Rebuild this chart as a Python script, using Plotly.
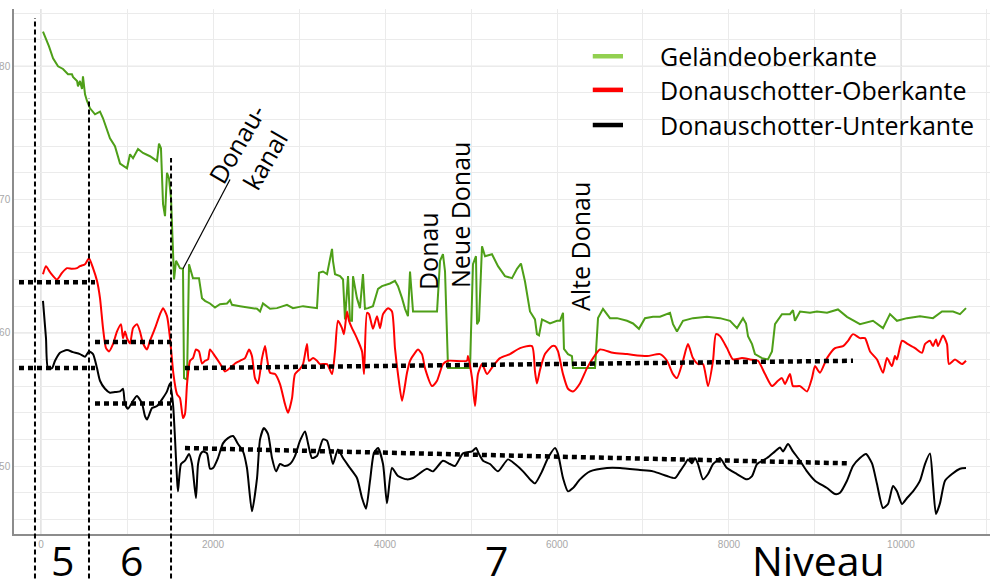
import plotly.graph_objects as go

# ---------------- data (distance in m, elevation in m ü.A.) ----------------
gelaende_x = [23, 58, 93, 140, 198, 256, 314, 360, 372, 419,
              430, 453, 477, 488, 512, 535, 570, 628, 686, 721,
              802, 860, 919, 1000, 1035, 1070, 1093, 1128, 1186, 1267,
              1326, 1349, 1372, 1395, 1419, 1442, 1465, 1488, 1512, 1535,
              1547, 1570, 1616, 1651, 1663, 1698, 1721, 1767, 1837, 1872,
              1907, 1965, 2023, 2081, 2163, 2198, 2221, 2314, 2430, 2512,
              2547, 2581, 2663, 2744, 2860, 2930, 3047, 3163, 3209, 3233,
              3279, 3326, 3360, 3384, 3395, 3419, 3477, 3512, 3535, 3570,
              3593, 3616, 3628, 3674, 3709, 3744, 3767, 3802, 3860, 3919,
              3965, 4058, 4116, 4151, 4198, 4233, 4267, 4291, 4326, 4605,
              4640, 4674, 4698, 4733, 4953, 4988, 5023, 5058, 5070, 5093,
              5128, 5163, 5244, 5314, 5395, 5477, 5535, 5581, 5628, 5686,
              5744, 5767, 5791, 5826, 5860, 5919, 6000, 6035, 6070, 6081,
              6128, 6174, 6186, 6442, 6477, 6535, 6616, 6698, 6814, 6884,
              6953, 7023, 7116, 7198, 7314, 7349, 7395, 7465, 7581, 7744,
              7895, 8012, 8093, 8163, 8198, 8221, 8268, 8302, 8384, 8453,
              8500, 8535, 8616, 8709, 8744, 8767, 8826, 8942, 9023, 9140,
              9267, 9372, 9523, 9674, 9791, 9872, 9953, 10070, 10221, 10372,
              10477, 10605, 10686, 10756]
gelaende_y = [182.6, 182.1, 181.5, 180.6, 180.0, 179.8, 179.4, 179.4, 179.2, 178.9,
              178.5, 178.9, 178.3, 179.25, 177.9, 177.4, 176.85, 176.4, 176.6, 176.1,
              174.6, 174.0, 172.7, 172.35, 173.4, 173.1, 173.4, 173.8, 173.5, 173.25,
              173.0, 172.9, 174.2, 173.85, 169.65, 168.75, 172.0, 171.6, 170.1, 165.9,
              164.0, 165.4, 164.85, 164.8, 156.6, 156.5, 165.15, 164.1, 164.1, 162.6,
              162.4, 162.2, 161.9, 162.15, 162.2, 162.45, 162.1, 162.0, 161.9, 161.8,
              161.6, 162.2, 161.8, 161.85, 162.1, 161.85, 162.0, 161.9, 161.85, 164.5,
              164.6, 164.4, 165.5, 166.3, 165.4, 164.4, 164.25, 164.0, 161.0, 164.25,
              160.9, 160.9, 164.25, 162.6, 161.85, 164.4, 161.8, 161.85, 162.0, 163.3,
              163.5, 163.7, 163.9, 163.5, 162.6, 161.8, 161.25, 164.6, 161.6, 161.6,
              165.4, 165.9, 164.6, 157.35, 157.35, 157.35, 165.15, 165.75, 160.65, 160.9,
              166.5, 165.75, 165.9, 165.0, 164.25, 164.1, 164.8, 165.2, 163.85, 161.6,
              161.0, 159.9, 159.8, 161.0, 160.9, 160.7, 160.9, 160.9, 161.5, 158.8,
              158.4, 158.25, 157.35, 157.35, 161.1, 161.8, 161.1, 161.1, 160.9, 160.7,
              160.3, 161.1, 161.2, 161.2, 161.5, 160.65, 160.1, 160.9, 161.1, 161.2,
              161.1, 160.9, 160.35, 161.1, 160.7, 159.75, 159.15, 158.4, 158.1, 158.0,
              158.6, 160.65, 161.4, 161.4, 161.7, 160.9, 161.6, 161.5, 161.6, 161.5,
              161.75, 161.2, 160.65, 160.9, 160.35, 161.4, 160.9, 161.1, 161.25, 161.1,
              161.6, 161.6, 161.4, 161.85]

oberkante_x = [23, 58, 105, 186, 244, 302, 360, 419, 453, 512,
               558, 605, 651, 686, 721, 756, 791, 837, 884, 930,
               953, 977, 1000, 1035, 1070, 1116, 1151, 1186, 1233, 1267,
               1326, 1384, 1419, 1465, 1500, 1540, 1581, 1616, 1651, 1674,
               1698, 1733, 1767, 1802, 1837, 1872, 1907, 1942, 1965, 2023,
               2081, 2140, 2198, 2256, 2314, 2372, 2419, 2453, 2488, 2523,
               2570, 2605, 2628, 2663, 2721, 2779, 2837, 2872, 2919, 2953,
               3012, 3047, 3093, 3116, 3163, 3209, 3244, 3326, 3384, 3419,
               3453, 3500, 3523, 3558, 3581, 3616, 3651, 3686, 3733, 3756,
               3791, 3814, 3860, 3907, 3942, 3977, 4035, 4081, 4116, 4151,
               4198, 4256, 4291, 4349, 4384, 4430, 4465, 4547, 4605, 4674,
               4733, 4953, 4965, 5012, 5047, 5081, 5128, 5186, 5256, 5337,
               5453, 5570, 5709, 5744, 5767, 5802, 5860, 5942, 5977, 6012,
               6070, 6128, 6186, 6267, 6349, 6419, 6500, 6651, 6814, 7047,
               7198, 7279, 7349, 7395, 7465, 7523, 7581, 7640, 7698, 7756,
               7814, 7849, 7895, 7977, 8047, 8151, 8244, 8337, 8419, 8500,
               8570, 8616, 8651, 8709, 8744, 8826, 8907, 8965, 9000, 9058,
               9140, 9233, 9326, 9384, 9442, 9523, 9581, 9640, 9721, 9791,
               9837, 9895, 9930, 9953, 10012, 10081, 10163, 10244, 10279, 10337,
               10372, 10407, 10430, 10488, 10535, 10558, 10628, 10709, 10756]
oberkante_y = [164.4, 165.0, 164.55, 164.0, 164.5, 164.85, 164.8, 164.85, 165.0, 165.15,
               165.6, 164.85, 163.9, 162.6, 160.35, 158.85, 158.6, 159.15, 160.1, 160.65,
               159.6, 160.1, 159.6, 159.2, 160.35, 160.65, 160.1, 159.2, 158.75, 159.4,
               160.35, 161.4, 161.85, 161.25, 159.6, 156.9, 155.4, 155.1, 153.6, 153.9,
               156.15, 157.9, 158.1, 158.75, 158.6, 157.7, 157.9, 158.0, 158.75, 158.25,
               157.7, 157.1, 157.35, 157.7, 157.9, 158.1, 158.75, 158.25, 156.6, 156.2,
               158.1, 159.0, 158.1, 157.0, 156.9, 156.15, 154.65, 154.0, 155.1, 156.9,
               157.3, 157.65, 159.15, 157.9, 158.1, 157.9, 157.65, 157.65, 156.9, 158.6,
               160.9, 160.35, 159.9, 161.6, 160.9, 160.35, 159.9, 159.4, 158.6, 156.9,
               161.5, 161.4, 160.3, 161.25, 160.35, 161.4, 161.85, 161.6, 158.85, 156.9,
               154.9, 157.0, 157.9, 158.5, 158.75, 158.4, 157.35, 156.0, 156.4, 157.65,
               157.9, 157.9, 158.25, 156.6, 154.5, 156.9, 157.65, 156.9, 157.5, 158.1,
               158.4, 158.85, 159.0, 157.1, 156.2, 157.2, 158.4, 159.0, 159.0, 158.6,
               156.9, 155.8, 155.6, 156.2, 157.35, 158.1, 158.75, 158.5, 158.4, 158.25,
               158.4, 157.9, 156.9, 156.6, 157.9, 159.15, 158.1, 157.65, 157.65, 156.0,
               157.9, 159.9, 159.75, 158.85, 158.0, 158.1, 158.0, 157.9, 156.9, 156.0,
               156.4, 156.6, 156.15, 156.9, 156.0, 156.0, 155.6, 156.6, 157.5, 157.0,
               158.1, 158.85, 159.0, 159.4, 159.9, 159.6, 159.6, 158.6, 158.0, 157.0,
               158.1, 157.5, 158.25, 158.0, 159.4, 159.15, 158.85, 158.5, 159.15, 159.4,
               159.0, 159.5, 159.0, 159.8, 159.15, 157.65, 158.0, 157.65, 157.9]

unterkante_x = [23, 58, 81, 128, 163, 221, 302, 372, 453, 512,
                558, 605, 651, 686, 744, 802, 860, 919, 953, 977,
                1012, 1070, 1116, 1174, 1209, 1233, 1291, 1349, 1407, 1465,
                1500, 1535, 1558, 1581, 1593, 1628, 1674, 1721, 1756, 1802,
                1826, 1860, 1884, 1930, 1965, 2000, 2058, 2116, 2174, 2233,
                2291, 2349, 2395, 2453, 2512, 2547, 2593, 2640, 2686, 2733,
                2779, 2837, 2895, 2953, 3012, 3070, 3105, 3151, 3209, 3279,
                3326, 3360, 3395, 3453, 3512, 3593, 3674, 3733, 3779, 3826,
                3872, 3919, 3977, 4023, 4081, 4151, 4256, 4326, 4488, 4558,
                4674, 4756, 4814, 4907, 5012, 5058, 5093, 5140, 5221, 5314,
                5430, 5512, 5605, 5686, 5744, 5826, 5895, 5977, 6012, 6070,
                6128, 6186, 6267, 6384, 6581, 6733, 6965, 7116, 7279, 7372,
                7430, 7488, 7523, 7570, 7605, 7640, 7698, 7756, 7814, 7860,
                7895, 7977, 8093, 8209, 8268, 8326, 8442, 8535, 8593, 8628,
                8686, 8744, 8826, 8907, 9000, 9140, 9233, 9291, 9372, 9442,
                9523, 9593, 9663, 9721, 9791, 9849, 9907, 9953, 10012, 10070,
                10140, 10221, 10279, 10337, 10372, 10407, 10453, 10512, 10593, 10686,
                10756]
unterkante_y = [162.4, 159.6, 157.35, 157.35, 157.9, 158.5, 158.7, 158.55, 158.4, 158.2,
                158.6, 158.4, 157.35, 156.4, 155.8, 155.5, 155.55, 155.6, 155.8, 154.65,
                154.3, 154.9, 155.25, 154.7, 153.75, 153.5, 154.35, 154.5, 155.0, 155.6,
                156.2, 154.65, 152.1, 149.1, 148.1, 150.15, 150.4, 150.9, 150.15, 147.6,
                150.15, 150.95, 151.1, 150.95, 149.8, 149.85, 150.6, 151.7, 152.1, 152.25,
                151.65, 151.1, 149.85, 146.6, 149.1, 152.0, 152.85, 152.4, 150.6, 149.6,
                150.15, 150.0, 150.15, 150.75, 151.9, 152.6, 151.7, 150.6, 150.75, 152.0,
                151.9, 151.1, 150.15, 151.25, 150.6, 149.85, 149.1, 147.6, 146.8, 148.9,
                151.0, 151.35, 150.15, 147.2, 149.85, 149.25, 149.0, 149.1, 149.8, 149.6,
                150.4, 150.15, 150.0, 150.95, 151.1, 151.35, 150.9, 150.4, 150.15, 149.6,
                150.5, 150.15, 149.6, 149.0, 148.7, 149.6, 150.6, 151.35, 150.9, 149.1,
                148.1, 148.35, 149.0, 149.6, 149.85, 149.85, 149.7, 149.6, 149.25, 149.1,
                149.6, 150.15, 150.5, 150.2, 150.6, 150.15, 149.0, 149.4, 150.15, 150.4,
                150.6, 149.85, 149.4, 149.0, 149.25, 150.15, 150.6, 151.1, 151.4, 151.1,
                151.65, 151.1, 150.4, 149.6, 148.9, 148.35, 147.9, 148.0, 148.9, 150.0,
                150.6, 150.9, 150.2, 148.65, 146.85, 147.15, 148.5, 148.1, 147.15, 147.6,
                148.1, 148.9, 150.15, 150.95, 148.65, 146.4, 147.2, 148.9, 149.4, 149.8,
                149.85]

series_names = ["Geländeoberkante", "Donauschotter-Oberkante", "Donauschotter-Unterkante"]
line_colors = ["#4E9F18", "#FF0000", "#000000"]
legend_colors = ["#92D050", "#FF0000", "#000000"]

# Niveau boundaries (m) and mean levels per Niveau
niveau_bounds = [-70, 558, 1512]
niveau_labels = ["5", "6", "7", "Niveau"]
niveau5_x = [-256, 628]
niveau6_x = [628, 1512]
niveau7_ok_x = [1674, 9442]
niveau7_uk_x = [1674, 9407]
level_oberkante = [163.8, 159.3, 157.35, 157.9]   # N5, N6, N7 start, N7 end
level_unterkante = [157.35, 154.7, 151.35, 150.2]

x_tickvals = [0, 1000, 2000, 3000, 4000, 5000, 6000, 7000, 8000, 9000, 10000, 11000]
x_ticktext = ["0", "", "2000", "", "4000", "", "6000", "", "8000", "", "10000", ""]
y_tickvals = [146, 148, 150, 152, 154, 156, 158, 160, 162, 164, 166, 168, 170,
              172, 174, 176, 178, 180, 182, 184]
y_ticktext = ["", "", "150", "", "", "", "", "160", "", "", "", "", "170",
              "", "", "", "", "180", "", ""]

assert len(gelaende_x) == len(gelaende_y)
assert len(oberkante_x) == len(oberkante_y)
assert len(unterkante_x) == len(unterkante_y)

FONT = "Open Sans"

fig = go.Figure()
fig.add_trace(go.Scatter(x=gelaende_x, y=gelaende_y, mode="lines", name=series_names[0],
                         line=dict(color=line_colors[0], width=2), showlegend=False))
fig.add_trace(go.Scatter(x=oberkante_x, y=oberkante_y, mode="lines", name=series_names[1],
                         line=dict(color=line_colors[1], width=2, shape="spline", smoothing=0.6),
                         showlegend=False))
fig.add_trace(go.Scatter(x=unterkante_x, y=unterkante_y, mode="lines", name=series_names[2],
                         line=dict(color=line_colors[2], width=2, shape="spline", smoothing=0.6),
                         showlegend=False))

shapes = []
# darker grid lines
for xv in [0, 10000]:
    shapes.append(dict(type="line", xref="x", yref="paper", x0=xv, x1=xv, y0=0, y1=1,
                       line=dict(color="#C8C8C8", width=1), layer="below"))
for yv in [160, 180]:
    shapes.append(dict(type="line", xref="paper", yref="y", x0=0, x1=1, y0=yv, y1=yv,
                       line=dict(color="#C8C8C8", width=1), layer="below"))

# dotted level lines
dot = dict(color="black", width=4.5, dash="5px,4px")
shapes.append(dict(type="line", xref="x", yref="y", x0=niveau5_x[0], x1=niveau5_x[1],
                   y0=level_oberkante[0], y1=level_oberkante[0], line=dot))
shapes.append(dict(type="line", xref="x", yref="y", x0=niveau5_x[0], x1=niveau5_x[1],
                   y0=level_unterkante[0], y1=level_unterkante[0], line=dot))
shapes.append(dict(type="line", xref="x", yref="y", x0=niveau6_x[0], x1=niveau6_x[1],
                   y0=level_oberkante[1], y1=level_oberkante[1], line=dot))
shapes.append(dict(type="line", xref="x", yref="y", x0=niveau6_x[0], x1=niveau6_x[1],
                   y0=level_unterkante[1], y1=level_unterkante[1], line=dot))
shapes.append(dict(type="line", xref="x", yref="y", x0=niveau7_ok_x[0], x1=niveau7_ok_x[1],
                   y0=level_oberkante[2], y1=level_oberkante[3], line=dot))
shapes.append(dict(type="line", xref="x", yref="y", x0=niveau7_uk_x[0], x1=niveau7_uk_x[1],
                   y0=level_unterkante[2], y1=level_unterkante[3], line=dot))

# vertical dashed boundaries
tops = [0.983, 0.830, 0.716]
for xb, top in zip(niveau_bounds, tops):
    shapes.append(dict(type="line", xref="x", yref="paper", x0=xb, x1=xb, y0=-0.1, y1=top,
                       line=dict(color="black", width=2, dash="5px,3px")))

# leader line for Donaukanal
leader_x = [2198, 1651]
leader_y = [171.5, 164.8]
shapes.append(dict(type="line", xref="x", yref="y", x0=leader_x[0], x1=leader_x[1],
                   y0=leader_y[0], y1=leader_y[1], line=dict(color="black", width=1.2)))

# custom legend
leg_y = [0.910, 0.846, 0.779]
for c, ly in zip(legend_colors, leg_y):
    shapes.append(dict(type="line", xref="paper", yref="paper", x0=0.593, x1=0.624,
                       y0=ly, y1=ly, line=dict(color=c, width=4.5)))

annotations = []
for name, ly in zip(series_names, leg_y):
    annotations.append(dict(text=name, xref="paper", yref="paper", x=0.660, y=ly,
                            xanchor="left", yanchor="middle", showarrow=False,
                            font=dict(family=FONT, size=25, color="black")))

label_font = dict(family=FONT, size=25, color="black")
annotations += [
    dict(text="Donau-<br>kanal", xref="paper", yref="paper", x=0.243, y=0.728,
         textangle=-60, showarrow=False, font=label_font, xanchor="center", yanchor="middle"),
    dict(text="Donau", xref="paper", yref="paper", x=0.4242, y=0.539,
         textangle=-90, showarrow=False, font=label_font, xanchor="center", yanchor="middle"),
    dict(text="Neue Donau", xref="paper", yref="paper", x=0.457, y=0.6076,
         textangle=-90, showarrow=False, font=label_font, xanchor="center", yanchor="middle"),
    dict(text="Alte Donau", xref="paper", yref="paper", x=0.580, y=0.5467,
         textangle=-90, showarrow=False, font=label_font, xanchor="center", yanchor="middle"),
]
big_font = dict(family=FONT, size=41, color="black")
for lab, xp in zip(niveau_labels, [0.0502, 0.1209, 0.4939, 0.8238]):
    annotations.append(dict(text=lab, xref="paper", yref="paper", x=xp, y=-0.05,
                            xanchor="center", yanchor="middle", showarrow=False, font=big_font))

tick_font = dict(family="Liberation Sans", size=10, color="#A8A8A8")
fig.update_layout(
    template="none",
    width=990, height=580,
    margin=dict(l=14, r=0, t=9, b=46),
    paper_bgcolor="white", plot_bgcolor="white",
    showlegend=False,
    shapes=shapes,
    annotations=annotations,
    xaxis=dict(range=[-314, 11035], tickmode="array", tickvals=x_tickvals, ticktext=x_ticktext,
               showgrid=True, gridcolor="#EBEBEB", gridwidth=1, zeroline=False,
               showline=True, linecolor="#8C8C8C", linewidth=1.5, ticks="",
               tickfont=tick_font, automargin=False),
    yaxis=dict(range=[144.9, 184.3], tickmode="array", tickvals=y_tickvals, ticktext=y_ticktext,
               showgrid=True, gridcolor="#EBEBEB", gridwidth=1, zeroline=False,
               showline=True, linecolor="#8C8C8C", linewidth=1.5, ticks="",
               tickfont=tick_font, automargin=False),
)

fig.write_html("out.html",
               config={"displayModeBar": False},
               post_script="document.body.style.margin='0px';document.body.style.overflow='hidden';")
